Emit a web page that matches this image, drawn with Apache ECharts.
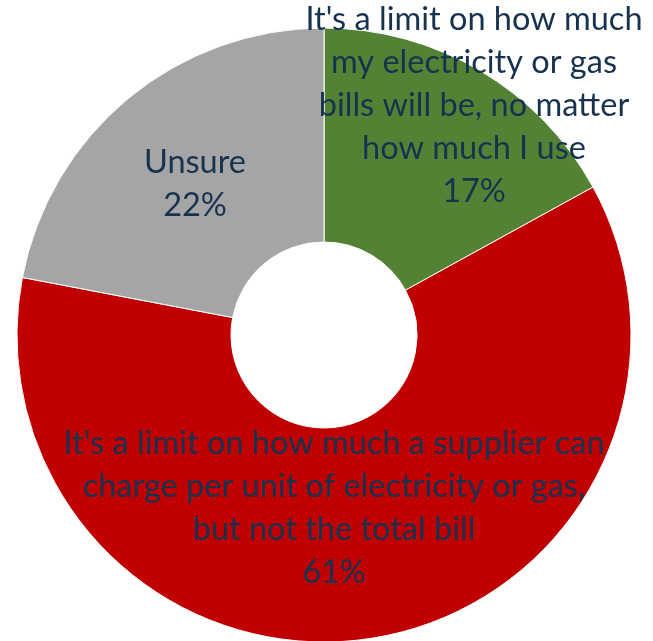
<!DOCTYPE html>
<html>
<head>
<meta charset="utf-8">
<script src="https://cdn.jsdelivr.net/npm/echarts@6/dist/echarts.min.js"></script>
<style>
  html, body { margin: 0; padding: 0; background: #ffffff; }
  #chart { width: 653px; height: 641px; }
</style>
</head>
<body>
<div id="chart"></div>
<script>
// Survey answers: what a price cap means
const categories = [
  "It's a limit on how much\nmy electricity or gas\nbills will be, no matter\nhow much I use",
  "It's a limit on how much a supplier can\ncharge per unit of electricity or gas,\nbut not the total bill",
  "Unsure"
];
const shares = [17, 61, 22];
const sliceColors = ['#548235', '#C00000', '#A5A5A5'];

// Centre point of each label block (px)
const labelSpots = [
  [474, 106],
  [334, 508],
  [195, 184]
];

const chart = echarts.init(document.getElementById('chart'), null, { renderer: 'canvas' });

chart.setOption({
  animation: false,
  backgroundColor: '#ffffff',
  series: [{
    type: 'pie',
    center: [324, 335],
    radius: [93, 307],
    startAngle: 90,
    clockwise: true,
    avoidLabelOverlap: false,
    data: categories.map((name, i) => ({
      name: name,
      value: shares[i],
      itemStyle: { color: sliceColors[i] }
    })),
    itemStyle: { borderColor: '#ffffff', borderWidth: 1 },
    label: {
      show: true,
      position: 'inside',
      formatter: p => p.name + '\n' + p.value + '%',
      fontFamily: 'Lato',
      fontSize: 32.5,
      lineHeight: 43,
      color: '#17324f',
      align: 'center',
      verticalAlign: 'middle'
    },
    labelLine: { show: false },
    labelLayout: function (params) {
      const spot = labelSpots[params.dataIndex];
      return { x: spot[0], y: spot[1], align: 'center', verticalAlign: 'middle' };
    },
    emphasis: { disabled: true }
  }]
});
</script>
</body>
</html>
